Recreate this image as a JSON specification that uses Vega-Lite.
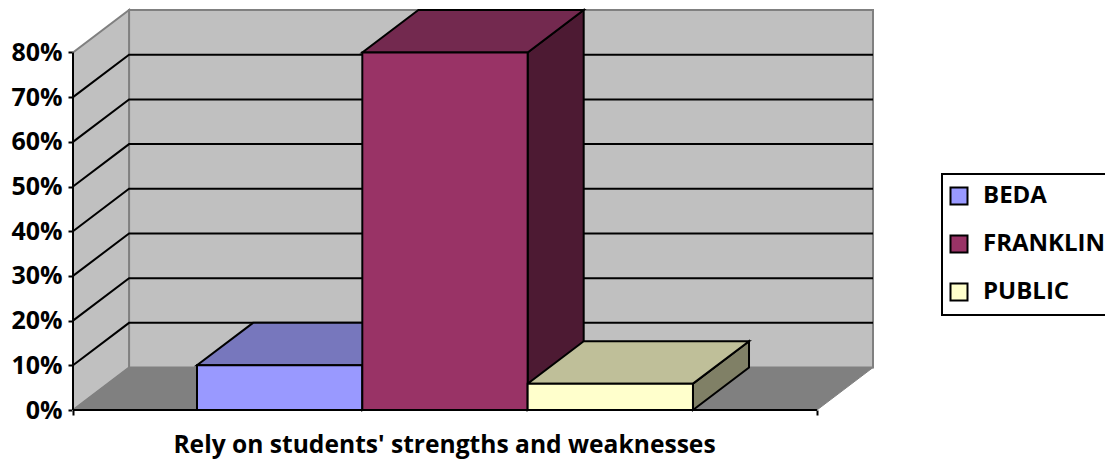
{
"$schema":"https://vega.github.io/schema/vega-lite/v6.json",
"width":800,"height":400,"autosize":{"type":"none"},
"padding":{"left":73,"top":10,"right":232,"bottom":49},
"background":"white",
"config":{"view":{"stroke":null},"legend":{"strokeWidth":2}},
"datasets":{
"back":[{"xa":0.339,"xb":4.839,"ya":9.5,"yb":89.5}],
"left":[{"px":0,"low":0,"high":80},{"px":0.339,"low":9.5,"high":89.5}],
"floor":[{"py":0,"xa":0,"xb":4.5},{"py":9.5,"xa":0.339,"xb":4.839}],
"grid":[
{"level":"10","px":0,"py":10},{"level":"10","px":0.339,"py":19.5},{"level":"10","px":4.839,"py":19.5},
{"level":"20","px":0,"py":20},{"level":"20","px":0.339,"py":29.5},{"level":"20","px":4.839,"py":29.5},
{"level":"30","px":0,"py":30},{"level":"30","px":0.339,"py":39.5},{"level":"30","px":4.839,"py":39.5},
{"level":"40","px":0,"py":40},{"level":"40","px":0.339,"py":49.5},{"level":"40","px":4.839,"py":49.5},
{"level":"50","px":0,"py":50},{"level":"50","px":0.339,"py":59.5},{"level":"50","px":4.839,"py":59.5},
{"level":"60","px":0,"py":60},{"level":"60","px":0.339,"py":69.5},{"level":"60","px":4.839,"py":69.5},
{"level":"70","px":0,"py":70},{"level":"70","px":0.339,"py":79.5},{"level":"70","px":4.839,"py":79.5}],
"sides":[
{"face":"BEDA side","px":1.75,"low":0,"high":10},{"face":"BEDA side","px":2.089,"low":9.5,"high":19.5},
{"face":"FRANKLIN side","px":2.75,"low":0,"high":80},{"face":"FRANKLIN side","px":3.089,"low":9.5,"high":89.5},
{"face":"PUBLIC side","px":3.75,"low":0,"high":5.9},{"face":"PUBLIC side","px":4.089,"low":9.5,"high":15.4}],
"tops":[
{"face":"BEDA top","py":10,"xa":0.75,"xb":1.75},{"face":"BEDA top","py":19.5,"xa":1.089,"xb":2.089},
{"face":"FRANKLIN top","py":80,"xa":1.75,"xb":2.75},{"face":"FRANKLIN top","py":89.5,"xa":2.089,"xb":3.089},
{"face":"PUBLIC top","py":5.9,"xa":2.75,"xb":3.75},{"face":"PUBLIC top","py":15.4,"xa":3.089,"xb":4.089}],
"bars":[
{"series":"BEDA","start":0.75,"end":1.75,"base":0,"value":10},
{"series":"FRANKLIN","start":1.75,"end":2.75,"base":0,"value":80},
{"series":"PUBLIC","start":2.75,"end":3.75,"base":0,"value":5.9}],
"frontAxes":[{"xa":0,"xb":0,"ya":0,"yb":80},{"xa":0,"xb":4.5,"ya":0,"yb":0}]
},
"layer":[
{"data":{"name":"back"},
"mark":{"type":"rect","fill":"#C0C0C0","stroke":"#808080","strokeWidth":2},
"encoding":{
"x":{"field":"xa","type":"quantitative","scale":{"domain":[0,4.839],"nice":false,"zero":false},
"axis":{"values":[0,4.5],"labels":false,"domain":false,"grid":false,"ticks":true,"tickSize":5,"tickColor":"black","tickWidth":2,
"title":"Rely on students' strengths and weaknesses","titleFont":"Open Sans","titleFontWeight":"bold","titleFontSize":24.6,"titleColor":"black","titleX":371,"titleY":35,"titleBaseline":"middle","titleAnchor":"middle"}},
"x2":{"field":"xb"},
"y":{"field":"ya","type":"quantitative","scale":{"domain":[0,89.5],"nice":false,"zero":false},
"axis":{"values":[0,10,20,30,40,50,60,70,80],"labelExpr":"datum.value + '%'","labelFont":"Open Sans","labelFontWeight":"bold","labelFontSize":25,"labelColor":"black","labelPadding":6,"domain":false,"grid":false,"ticks":true,"tickSize":5,"tickColor":"black","tickWidth":2,"title":null}},
"y2":{"field":"yb"}}},
{"data":{"name":"left"},
"mark":{"type":"area","fill":"#C0C0C0","stroke":"#808080","strokeWidth":2},
"encoding":{"x":{"field":"px","type":"quantitative"},"y":{"field":"low","type":"quantitative","stack":null},"y2":{"field":"high"}}},
{"data":{"name":"floor"},
"mark":{"type":"area","orient":"horizontal","fill":"#808080","stroke":"#808080","strokeWidth":1},
"encoding":{"y":{"field":"py","type":"quantitative"},"x":{"field":"xa","type":"quantitative","stack":null},"x2":{"field":"xb"}}},
{"data":{"name":"grid"},
"mark":{"type":"line","color":"black","strokeWidth":2},
"encoding":{"x":{"field":"px","type":"quantitative"},"y":{"field":"py","type":"quantitative"},"detail":{"field":"level","type":"nominal"}}},
{"data":{"name":"frontAxes"},
"mark":{"type":"rule","color":"black","strokeWidth":2},
"encoding":{"x":{"field":"xa","type":"quantitative"},"x2":{"field":"xb"},"y":{"field":"ya","type":"quantitative"},"y2":{"field":"yb"}}},
{"data":{"name":"sides"},
"mark":{"type":"area","stroke":"black","strokeWidth":2},
"encoding":{"x":{"field":"px","type":"quantitative"},"y":{"field":"low","type":"quantitative","stack":null},"y2":{"field":"high"},
"fill":{"field":"face","type":"nominal"}}},
{"data":{"name":"tops"},
"mark":{"type":"area","orient":"horizontal","stroke":"black","strokeWidth":2},
"encoding":{"y":{"field":"py","type":"quantitative"},"x":{"field":"xa","type":"quantitative","stack":null},"x2":{"field":"xb"},
"fill":{"field":"face","type":"nominal"}}},
{"data":{"name":"bars"},
"mark":{"type":"rect","stroke":"black","strokeWidth":2},
"encoding":{"x":{"field":"start","type":"quantitative"},"x2":{"field":"end"},"y":{"field":"base","type":"quantitative"},"y2":{"field":"value"},
"fill":{"field":"series","type":"nominal","scale":{"domain":["BEDA","FRANKLIN","PUBLIC","BEDA side","FRANKLIN side","PUBLIC side","BEDA top","FRANKLIN top","PUBLIC top"],"range":["#9999FF","#993366","#FFFFCC","#5C5C99","#4D1A33","#808066","#7777BD","#73294F","#BFBF99"]},
"legend":{"values":["BEDA","FRANKLIN","PUBLIC"],"orient":"none","legendX":869,"legendY":164,"title":null,"symbolType":"square","symbolSize":289,"symbolStrokeColor":"black","symbolStrokeWidth":2,"labelFont":"Open Sans","labelFontWeight":"bold","labelFontSize":24,"labelColor":"black","strokeColor":"black","fillColor":"white","padding":10,"rowPadding":22,"labelOffset":12,"labelLimit":300,"symbolOffset":-5}}}}
]
}
